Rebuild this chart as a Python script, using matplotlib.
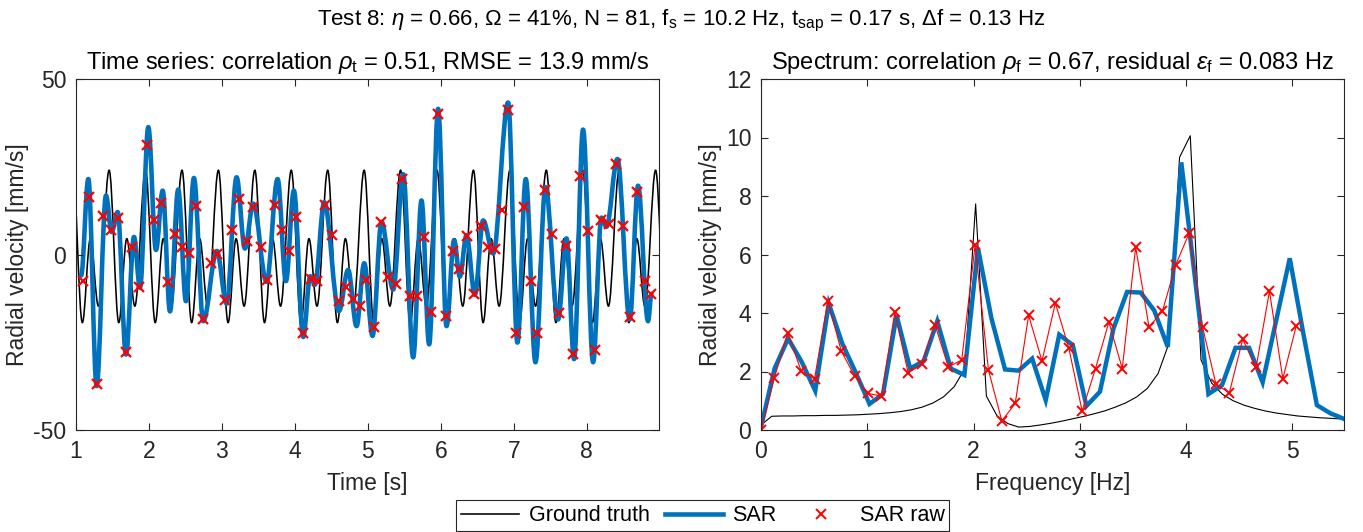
from __future__ import annotations

import matplotlib

matplotlib.use("Agg")

import matplotlib.pyplot as plt
import numpy as np
from matplotlib.lines import Line2D
from matplotlib.patches import PathPatch
from matplotlib.path import Path

# --- time series -----------------------------------------------------------
# SAR raw samples (red crosses)
raw_time_s = [
    1.091, 1.183, 1.292, 1.374, 1.479, 1.580, 1.680, 1.771, 1.868, 1.968,
    2.068, 2.160, 2.256, 2.356, 2.456, 2.548, 2.644, 2.744, 2.845, 2.935,
    3.041, 3.141, 3.233, 3.338, 3.429, 3.530, 3.621, 3.726, 3.818, 3.918,
    4.010, 4.114, 4.215, 4.306, 4.411, 4.502, 4.603, 4.699, 4.790, 4.890, 4.970,
    5.082, 5.178, 5.278, 5.379, 5.470, 5.575, 5.667, 5.767, 5.859, 5.963,
    6.064, 6.160, 6.251, 6.352, 6.452, 6.548, 6.648, 6.749, 6.845, 6.927,
    7.037, 7.137, 7.233, 7.324, 7.425, 7.525, 7.621, 7.722, 7.813, 7.914,
    8.018, 8.110, 8.201, 8.305, 8.407, 8.498, 8.598, 8.694, 8.795, 8.886,
]
raw_velocity = [
    -7.5, 16.3, -36.9, 11.0, 7.1, 10.5, -27.9, 2.0, -9.3, 31.1,
    9.7, 14.7, -7.9, 5.8, 2.0, 0.5, 13.7, -18.5, -2.5, 0.1,
    -13.0, 7.1, 15.9, 3.9, 13.5, 2.2, -7.2, 14.0, 6.9, 1.1,
    10.7, -22.3, -7.0, -7.5, 14.2, 5.5, -13.3, -9.3, -12.7, -14.6, -7.4,
    -20.6, 9.3, -6.5, -8.3, 21.5, -11.7, -11.7, 5.0, -16.3, 39.9,
    -17.6, 1.1, -4.1, 5.3, -11.3, 8.1, 2.0, 1.5, 12.6, 41.2,
    -22.3, 13.5, -7.5, -22.3, 18.5, 5.7, -16.6, 2.4, -28.4, 22.5,
    6.6, -27.2, 9.9, 8.6, 25.8, 8.1, -17.7, 17.9, -7.5, -11.2,
]

# SAR reconstruction, turning points of the smooth curve
sar_time_s = [
    1.070, 1.169, 1.283, 1.411, 1.489, 1.571, 1.685, 1.795, 1.877, 1.991,
    2.096, 2.188, 2.288, 2.401, 2.507, 2.616, 2.744, 2.930, 3.064, 3.201,
    3.315, 3.429, 3.612, 3.763, 3.877, 3.986, 4.114, 4.210, 4.274, 4.402,
    4.603, 4.730, 4.845, 4.950, 5.064, 5.187, 5.347, 5.484, 5.621, 5.735,
    5.840, 5.963, 6.078, 6.182, 6.260, 6.352, 6.466, 6.580, 6.717, 6.922,
    7.050, 7.164, 7.297, 7.434, 7.607, 7.722, 7.826, 7.949, 8.087, 8.201,
    8.270, 8.420, 8.589, 8.703, 8.840, 8.887,
]
sar_velocity = [
    -6.0, 21.5, -37.5, 16.8, 6.4, 12.1, -28.5, 5.0, -9.5, 36.3,
    1.3, 18.2, -16.2, 18.5, -13.3, 21.8, -19.0, 1.0, -14.0, 22.0,
    1.7, 14.5, -7.8, 21.5, -7.6, 18.2, -23.5, -6.2, -8.6, 14.9,
    -16.1, -4.4, -20.4, -2.5, -23.2, 9.3, -10.0, 22.9, -29.3, 15.4,
    -25.6, 41.5, -20.4, 4.1, -6.3, 5.5, -11.5, 9.7, 0.3, 43.3,
    -25.1, 21.5, -30.7, 19.2, -18.5, 4.6, -29.8, 35.6, -30.7, 10.5,
    7.9, 27.2, -18.5, 19.6, -19.0, -11.2,
]

# ground truth repeats every period: turning points measured from a deep trough
truth_period_s = 0.4993
truth_first_trough_s = 1.087
truth_phase_s = [0.0, 0.110, 0.220, 0.367]
truth_velocity = [-19.4, 4.5, -14.7, 24.0]

# --- spectra ---------------------------------------------------------------
raw_df_hz = 10.2 / 81
raw_spectrum = [
    0.00, 1.78, 3.33, 2.02, 1.75, 4.41, 2.70, 1.84, 1.25, 1.16,
    4.02, 1.95, 2.24, 3.60, 2.16, 2.39, 6.31, 2.05, 0.31, 0.91,
    3.92, 2.36, 4.34, 2.81, 0.65, 2.10, 3.69, 2.10, 6.25, 3.52,
    4.06, 5.65, 6.73, 3.52, 1.57, 1.27, 3.10, 2.14, 4.74, 1.76, 3.55,
]

sar_df_hz = 0.1276
sar_spectrum = [
    0.10, 2.10, 3.13, 2.33, 1.34, 4.32, 2.95, 1.95, 0.89, 1.23,
    3.92, 2.10, 2.36, 3.72, 2.10, 1.88, 6.23, 3.81, 2.07, 2.03,
    2.44, 1.02, 3.26, 2.90, 0.82, 1.31, 3.47, 4.72, 4.70, 4.09,
    2.84, 9.15, 5.23, 1.23, 1.53, 2.81, 2.81, 1.63, 3.75, 5.87,
    3.30, 0.85, 0.57, 0.38,
]

truth_df_hz = 0.101
truth_spectrum = [
    0.17, 0.47, 0.48, 0.48, 0.49, 0.49, 0.50, 0.50, 0.51, 0.52,
    0.54, 0.56, 0.59, 0.63, 0.69, 0.78, 0.92, 1.13, 1.48, 2.10,
    7.73, 1.16, 0.48, 0.22, 0.10, 0.12, 0.17, 0.23, 0.30, 0.38,
    0.46, 0.55, 0.65, 0.78, 0.93, 1.13, 1.42, 1.93, 2.95, 9.32,
    10.06, 2.40, 1.60, 1.22, 1.00, 0.85, 0.74, 0.65, 0.58, 0.53,
    0.48, 0.45, 0.42, 0.40, 0.38, 0.36,
]

TRUTH_COLOR = "black"
SAR_COLOR = "#0072BD"
RAW_COLOR = "red"
AXIS_COLOR = "#262626"
FONT_SIZE = 16.5

plt.rcParams["font.family"] = ["Liberation Sans", "DejaVu Sans"]
plt.rcParams["font.size"] = FONT_SIZE
plt.rcParams["axes.unicode_minus"] = False
plt.rcParams["mathtext.fontset"] = "custom"
plt.rcParams["mathtext.rm"] = "Liberation Sans"
plt.rcParams["mathtext.it"] = "Liberation Sans:italic"
plt.rcParams["mathtext.bf"] = "Liberation Sans:bold"


def smooth_path(x: list[float], y: list[float], pull: float = 0.36) -> Path:
    # cubic bezier through turning points, flat tangent at each point
    verts = [(x[0], y[0])]
    codes = [Path.MOVETO]

    for i in range(len(x) - 1):
        dx = x[i + 1] - x[i]
        verts += [
            (x[i] + pull * dx, y[i]),
            (x[i + 1] - pull * dx, y[i + 1]),
            (x[i + 1], y[i + 1]),
        ]
        codes += [Path.CURVE4] * 3

    return Path(verts, codes)


def style_axis(axis) -> None:
    axis.tick_params(
        direction="in",
        top=True,
        right=True,
        length=5,
        width=0.8,
        colors=AXIS_COLOR,
        labelsize=FONT_SIZE,
        pad=7,
    )
    for spine in axis.spines.values():
        spine.set_color(AXIS_COLOR)
        spine.set_linewidth(0.8)


def draw_time_series(axis) -> None:
    truth_t = []
    truth_v = []
    for k in range(-1, 17):
        for phase, value in zip(truth_phase_s, truth_velocity):
            truth_t.append(truth_first_trough_s + k * truth_period_s + phase)
            truth_v.append(value)

    axis.add_patch(
        PathPatch(
            smooth_path(truth_t, truth_v),
            fill=False,
            edgecolor=TRUTH_COLOR,
            linewidth=1.15,
        )
    )
    axis.add_patch(
        PathPatch(
            smooth_path(sar_time_s, sar_velocity),
            fill=False,
            edgecolor=SAR_COLOR,
            linewidth=3.3,
            capstyle="round",
            joinstyle="round",
        )
    )
    axis.plot(
        raw_time_s,
        raw_velocity,
        linestyle="none",
        marker="x",
        markersize=6.5,
        markeredgewidth=1.6,
        color=RAW_COLOR,
    )

    axis.set_xlim(1.0, 8.99)
    axis.set_ylim(-50, 50)
    axis.set_xticks(np.arange(1, 9))
    axis.set_yticks([-50, 0, 50])
    axis.set_xlabel("Time [s]", color=AXIS_COLOR, labelpad=7)
    axis.set_ylabel("Radial velocity [mm/s]", color=AXIS_COLOR, labelpad=3)
    axis.set_title(
        r"Time series: correlation $\rho_\mathregular{t}$ = 0.51, RMSE = 13.9 mm/s",
        fontsize=17,
        pad=7,
    )
    style_axis(axis)


def draw_spectrum(axis) -> None:
    truth_f = np.arange(len(truth_spectrum)) * truth_df_hz
    sar_f = np.arange(len(sar_spectrum)) * sar_df_hz
    raw_f = np.arange(len(raw_spectrum)) * raw_df_hz

    axis.plot(truth_f, truth_spectrum, color=TRUTH_COLOR, linewidth=0.8)
    axis.plot(
        sar_f,
        sar_spectrum,
        color=SAR_COLOR,
        linewidth=3.2,
        solid_joinstyle="miter",
    )
    axis.plot(
        raw_f,
        raw_spectrum,
        color=RAW_COLOR,
        linewidth=0.8,
        marker="x",
        markersize=7,
        markeredgewidth=1.4,
    )

    axis.set_xlim(0, sar_f[-1])
    axis.set_ylim(0, 12)
    axis.set_xticks(np.arange(0, 6))
    axis.set_yticks(np.arange(0, 13, 2))
    axis.set_xlabel("Frequency [Hz]", color=AXIS_COLOR, labelpad=7)
    axis.set_ylabel("Radial velocity [mm/s]", color=AXIS_COLOR, labelpad=3)
    axis.set_title(
        r"Spectrum: correlation $\rho_\mathregular{f}$ = 0.67, residual "
        r"$\epsilon_\mathregular{f}$ = 0.083 Hz",
        fontsize=17,
        pad=7,
    )
    style_axis(axis)


def main() -> None:
    figure = plt.figure(figsize=(13.63, 5.32), dpi=100)

    left = figure.add_axes([76 / 1363, 102 / 532, 583 / 1363, 351 / 532])
    right = figure.add_axes([761 / 1363, 102 / 532, 583 / 1363, 351 / 532])

    draw_time_series(left)
    draw_spectrum(right)

    figure.suptitle(
        r"Test 8: $\eta$ = 0.66, $\Omega$ = 41%, N = 81, "
        r"f$_\mathregular{s}$ = 10.2 Hz, t$_\mathregular{sap}$ = 0.17 s, "
        r"$\Delta$f = 0.13 Hz",
        x=0.5,
        y=0.985,
        va="top",
        fontsize=16,
    )

    handles = [
        Line2D([], [], color=TRUTH_COLOR, linewidth=1.15),
        Line2D([], [], color=SAR_COLOR, linewidth=3.3),
        Line2D([], [], color=RAW_COLOR, linestyle="none", marker="x",
               markersize=7, markeredgewidth=1.4),
    ]
    legend = figure.legend(
        handles,
        ["Ground truth", "SAR", "SAR raw"],
        loc="lower center",
        bbox_to_anchor=(0.5155, 0.0),
        ncol=3,
        frameon=True,
        fancybox=False,
        framealpha=1,
        edgecolor=AXIS_COLOR,
        borderaxespad=0.05,
        handlelength=2.7,
        handletextpad=0.45,
        columnspacing=0.7,
        borderpad=0.22,
        fontsize=15.5,
    )
    legend.get_frame().set_linewidth(0.8)

    figure.savefig("out.png", dpi=100)
    plt.close(figure)


if __name__ == "__main__":
    main()
